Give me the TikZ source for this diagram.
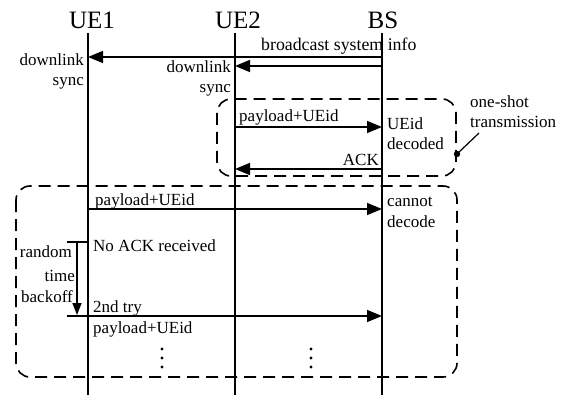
\documentclass[tikz,border=0pt]{standalone}
\usepackage{fontspec}
\setmainfont{Liberation Serif}
\usetikzlibrary{arrows.meta,positioning}

\tikzset{
  lifeline/.style={line width=1.6pt},
  msg/.style={line width=1.6pt,-{Triangle[length=15pt,width=12pt]}},
  phasebox/.style={line width=1.6pt,dash pattern=on 12pt off 7pt,rounded corners=14pt},
  lbl/.style={font=\fontsize{17}{20.5}\selectfont,inner sep=0pt},
  ttl/.style={font=\fontsize{25}{28}\selectfont,inner sep=0pt},
}

\begin{document}
\begin{tikzpicture}[x=1pt,y=1pt,yscale=-1,xscale=1]
\useasboundingbox (0,0) rectangle (569,395);

% Titles
\node[ttl] (ue1) at (92,20) {UE1};
\node[ttl] (ue2) at (238,20) {UE2};
\node[ttl] (bs) at (383,20) {BS};

% Lifelines
\coordinate (ue1top) at (88,33);  \coordinate (ue1bot) at (88,395);
\coordinate (ue2top) at (235,33); \coordinate (ue2bot) at (235,395);
\coordinate (bstop) at (382,33);  \coordinate (bsbot) at (382,395);
\draw[lifeline] (ue1top) -- (ue1bot);
\draw[lifeline] (ue2top) -- (ue2bot);
\draw[lifeline] (bstop) -- (bsbot);

% Dashed boxes
\draw[phasebox] (217,99) rectangle (456,176);
\draw[phasebox] (16,186) rectangle (457,377);

% Message end points
\coordinate (bcbs) at (382,57);  \coordinate (bcue1) at (88,57);
\coordinate (syncbs) at (382,66); \coordinate (syncue2) at (235,66);
\coordinate (plue2) at (235,127); \coordinate (plbs) at (382,127);
\coordinate (ackbs) at (382,169); \coordinate (ackue2) at (235,169);
\coordinate (plue1) at (88,209);  \coordinate (plbs2) at (382,209);
\coordinate (trystart) at (67,316); \coordinate (trybs) at (382,316);
\coordinate (bartop) at (67,242); \coordinate (barue1) at (88,242);
\coordinate (boffa) at (77,242);  \coordinate (boffb) at (77,315);

% Connections
\draw[msg] (bcbs) -- (bcue1);
\draw[msg] (syncbs) -- (syncue2);
\draw[msg] (plue2) -- (plbs);
\draw[msg] (ackbs) -- (ackue2);
\draw[msg] (plue1) -- (plbs2);
\draw[msg] (trystart) -- (trybs);
\draw[line width=1.6pt] (bartop) -- (barue1);
\draw[line width=1.6pt,-{Triangle[length=12pt,width=9pt]}] (boffa) -- (boffb);

% Text Nodes
\node[lbl,anchor=base west,font=\fontsize{17.8}{20.5}\selectfont] (bcinfo) at (261,51) {broadcast system info};
\node[lbl,anchor=base east,align=right] (sync1) at (84,86) {downlink\\sync};
\node[lbl,anchor=base east,align=right] (sync2) at (231,93) {downlink\\sync};
\node[lbl,anchor=base west] (pl1) at (239,122) {payload+UEid};
\node[lbl,anchor=base west,align=left] (decoded) at (387,150) {UEid\\decoded};
\node[lbl,anchor=base east] (ack) at (379,166) {ACK};
\node[lbl,anchor=base west,align=left] (oneshot) at (470,128) {one-shot\\transmission};
\coordinate (pointer) at (479,133);
\fill (457,154) circle (3.2pt) coordinate (dot);
\draw[line width=1.2pt] (pointer) -- (dot);

\node[lbl,anchor=base west] (pl2) at (95,205) {payload+UEid};
\node[lbl,anchor=base west,align=left] (nodecode) at (387,227) {cannot\\decode};
\node[lbl,anchor=base west] (noack) at (93,251) {No ACK received};
\node[lbl,anchor=base east] (rnd) at (72,257) {random};
\node[lbl,anchor=base east] (tm) at (75,281) {time};
\node[lbl,anchor=base east] (bo) at (73,302) {backoff};
\node[lbl,anchor=base west] (try) at (93,312) {2nd try};
\node[lbl,anchor=base west] (pl3) at (93,333) {payload+UEid};

% Continuation dots
\foreach \x in {162,311}
  \foreach \y in {349,358,367}
    \fill (\x,\y) circle (1.6pt);

\end{tikzpicture}
\end{document}
